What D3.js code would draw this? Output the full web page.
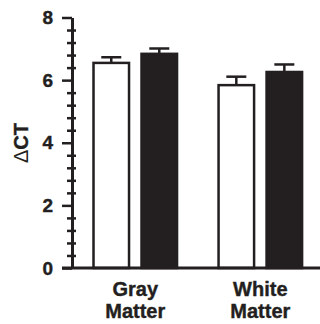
<!DOCTYPE html>
<html>
<head>
<meta charset="utf-8">
<script src="https://cdn.jsdelivr.net/npm/d3@7"></script>
<style>
  body { margin: 0; background: #fff; }
  svg { display: block; }
  text { font-family: "Liberation Sans", Arial, Helvetica, sans-serif; font-weight: bold; fill: #231f20; }
</style>
</head>
<body>
<svg id="chart" width="320" height="324"></svg>
<script>
    // Chart data
    var groups = ['Gray Matter', 'White Matter'],
        series = ['open', 'filled'],
        means = [[6.55, 6.84], [5.84, 6.26]],
        errors = [[0.18, 0.17], [0.27, 0.24]],
        majorTicks = [0, 2, 4, 6, 8],
        minorTicks = [0.4, 0.8, 1.2, 1.6, 2.4, 2.8, 3.2, 3.6, 4.4, 4.8, 5.2, 5.6, 6.4, 6.8, 7.2, 7.6];

    var INK = '#231f20',
        AXIS_X = 72,
        AXIS_WIDTH = 3,
        CAP_WIDTH = 20;

    var svg = d3.select('#chart');

    var y = d3.scaleLinear().domain([0, 8]).range([268, 17.5]);

    var x0 = d3.scaleBand()
        .domain(groups)
        .range([AXIS_X, 323.6])
        .paddingInner(0.312)
        .paddingOuter(0.162);

    var x1 = d3.scaleBand()
        .domain(series)
        .range([0, x0.bandwidth()])
        .paddingInner(0.208);

    // Flatten into one record per bar
    var bars = [];
    groups.forEach(function(g, gi) {
        series.forEach(function(s, si) {
            bars.push({ group: g, series: s, mean: means[gi][si], err: errors[gi][si] });
        });
    });

    var barGroup = svg.append('g');

    // Error bars (drawn first so bars cover the stem base)
    var err = barGroup.selectAll('g.err')
        .data(bars)
        .enter()
        .append('g')
        .attr('class', 'err')
        .attr('stroke', INK)
        .attr('stroke-width', 2.5);

    err.append('line')
        .attr('x1', function(d) { return x0(d.group) + x1(d.series) + x1.bandwidth() / 2; })
        .attr('x2', function(d) { return x0(d.group) + x1(d.series) + x1.bandwidth() / 2; })
        .attr('y1', function(d) { return y(d.mean); })
        .attr('y2', function(d) { return y(d.mean + d.err); });

    err.append('line')
        .attr('x1', function(d) { return x0(d.group) + x1(d.series) + x1.bandwidth() / 2 - CAP_WIDTH / 2; })
        .attr('x2', function(d) { return x0(d.group) + x1(d.series) + x1.bandwidth() / 2 + CAP_WIDTH / 2; })
        .attr('y1', function(d) { return y(d.mean + d.err); })
        .attr('y2', function(d) { return y(d.mean + d.err); });

    barGroup.selectAll('rect')
        .data(bars)
        .enter()
        .append('rect')
        .attr('x', function(d) { return x0(d.group) + x1(d.series) + 1.25; })
        .attr('y', function(d) { return y(d.mean); })
        .attr('width', x1.bandwidth() - 2.5)
        .attr('height', function(d) { return y(0) - y(d.mean); })
        .attr('fill', function(d) { return d.series === 'open' ? '#fff' : INK; })
        .attr('stroke', INK)
        .attr('stroke-width', 2.5);

    // Minor ticks cross the axis line
    var minorAxis = svg.append('g')
        .attr('transform', 'translate(' + (AXIS_X + 4) + ',0)')
        .call(d3.axisLeft(y).tickValues(minorTicks).tickSize(9).tickFormat(''));
    minorAxis.select('.domain').remove();
    minorAxis.selectAll('.tick line').attr('stroke', INK).attr('stroke-width', 2.5);

    // Major ticks and labels
    var yAxis = svg.append('g')
        .attr('transform', 'translate(' + AXIS_X + ',0)')
        .call(d3.axisLeft(y).tickValues(majorTicks).tickSize(10).tickSizeOuter(0).tickPadding(9));
    yAxis.select('.domain').attr('stroke', INK).attr('stroke-width', AXIS_WIDTH);
    yAxis.selectAll('.tick line').attr('stroke', INK).attr('stroke-width', 2.5);
    yAxis.selectAll('.tick text')
        .attr('font-size', 19)
        .attr('font-family', '"Liberation Sans", Arial, sans-serif')
        .attr('font-weight', 'bold')
        .attr('fill', INK)
        .attr('stroke', INK)
        .attr('stroke-width', 0.4);

    // X axis line runs past the last bar
    svg.append('line')
        .attr('x1', 62)
        .attr('x2', 320)
        .attr('y1', y(0))
        .attr('y2', y(0))
        .attr('stroke', INK)
        .attr('stroke-width', AXIS_WIDTH);

    // Category labels on two lines
    var labels = svg.selectAll('text.cat')
        .data(groups)
        .enter()
        .append('text')
        .attr('class', 'cat')
        .attr('text-anchor', 'middle')
        .attr('font-size', 20)
        .attr('stroke', INK)
        .attr('stroke-width', 0.4);

    labels.each(function(d) {
        var cx = x0(d) + x0.bandwidth() / 2;
        var words = d.split(' ');
        d3.select(this).selectAll('tspan')
            .data(words)
            .enter()
            .append('tspan')
            .attr('x', cx)
            .attr('y', function(w, i) { return 295.5 + i * 22.5; })
            .text(function(w) { return w; });
    });

    // Y title, delta in regular weight
    var title = svg.append('text')
        .attr('transform', 'translate(28,143) rotate(-90)')
        .attr('text-anchor', 'middle')
        .attr('font-size', 20);
    title.append('tspan').attr('font-weight', 'normal').text('\u0394');
    title.append('tspan').attr('stroke', INK).attr('stroke-width', 0.4).text('CT');
</script>
</body>
</html>
